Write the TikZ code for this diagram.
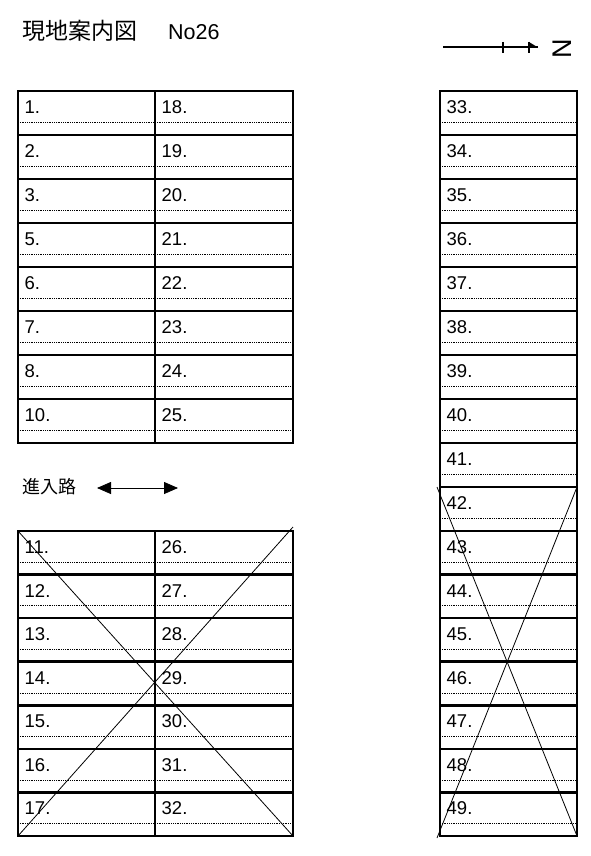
\documentclass[tikz,border=0pt]{standalone}
\usepackage{fontspec}
\setmainfont{Liberation Sans}
\newfontfamily\cjk{Noto Sans CJK JP}
\usetikzlibrary{calc,arrows.meta}
\tikzset{
  cellbox/.style={draw, line width=2.5pt, rectangle, inner sep=0pt, outer sep=0pt, anchor=north west},
  lab/.style={font=\fontsize{18.5}{21}\selectfont, anchor=base west, inner sep=0pt},
  dotline/.style={line width=0.6pt, dash pattern=on 0.9pt off 0.9pt},
  crossline/.style={line width=0.8pt},
}
\newcommand{\mycell}[6]{%
  \node[cellbox, minimum width=#4pt, minimum height=#5pt] (c#1) at (#2,#3) {};
  \node[lab] (l#1) at ($(c#1.north west)+(6.5,22.5)$) {#6};
  \draw[dotline] ($(c#1.north west)+(0,0.716*#5)$) -- ($(c#1.north east)+(0,0.716*#5)$);
}
\begin{document}
\begin{tikzpicture}[x=1pt,y=-1pt]
\useasboundingbox (0,0) rectangle (590,856);
% title
\node[anchor=base west, inner sep=0pt, font=\fontsize{21.5}{24}\selectfont] (title) at (22,40) {{\cjk\fontsize{23}{26}\selectfont 現地案内図　}\hspace{8pt}No26};
% north arrow
\coordinate (na) at (443,47);
\coordinate (nb) at (538,47);
\draw[line width=1.2pt] (na) -- (nb);
\draw[line width=1.2pt] (503,42) -- (503,53);
\draw[line width=1.2pt] (529,42) -- (529,53);
\fill (529,42) -- (538,47.5) -- (529,47.5) -- cycle;
\node[font=\fontsize{27}{30}\selectfont, rotate=90, inner sep=0pt] (north) at (562.5,49) {N};
% top-left table
\foreach \a/\b [count=\i from 0] in {1/18,2/19,3/20,5/21,6/22,7/23,8/24,10/25} {
  \pgfmathsetmacro\yy{91+44*\i}
  \mycell{\a}{18}{\yy}{137}{44}{\a.}
  \mycell{\b}{155}{\yy}{138}{44}{\b.}
}
% bottom-left table
\foreach \a/\b [count=\i from 0] in {11/26,12/27,13/28,14/29,15/30,16/31,17/32} {
  \pgfmathsetmacro\yy{531+43.57*\i}
  \mycell{\a}{18}{\yy}{137}{43.57}{\a.}
  \mycell{\b}{155}{\yy}{138}{43.57}{\b.}
}
% right column
\foreach \a [count=\i from 0] in {33,...,42} {
  \pgfmathsetmacro\yy{91+44*\i}
  \mycell{\a}{440}{\yy}{137}{44}{\a.}
}
\foreach \a [count=\i from 0] in {43,...,49} {
  \pgfmathsetmacro\yy{531+43.57*\i}
  \mycell{\a}{440}{\yy}{137}{43.57}{\a.}
}
% access road
\node[anchor=west, inner sep=0pt, font=\cjk\fontsize{18}{21}\selectfont] (road) at (22,487) {進入路};
\coordinate (ra) at (97,488);
\coordinate (rb) at (178,488);
\draw[line width=0.8pt, {Triangle[length=14pt,width=12pt]}-{Triangle[length=14pt,width=12pt]}] (ra) -- (rb);
% crosses
\coordinate (lx) at (293,527);
\draw[crossline] (c11.north west) -- (c32.south east);
\draw[crossline] (c17.south west) -- (lx);
\coordinate (rx1) at (437,487);
\coordinate (rx2) at (437,838);
\draw[crossline] (rx1) -- (c49.south east);
\draw[crossline] (rx2) -- (c42.north east);
\end{tikzpicture}
\end{document}
